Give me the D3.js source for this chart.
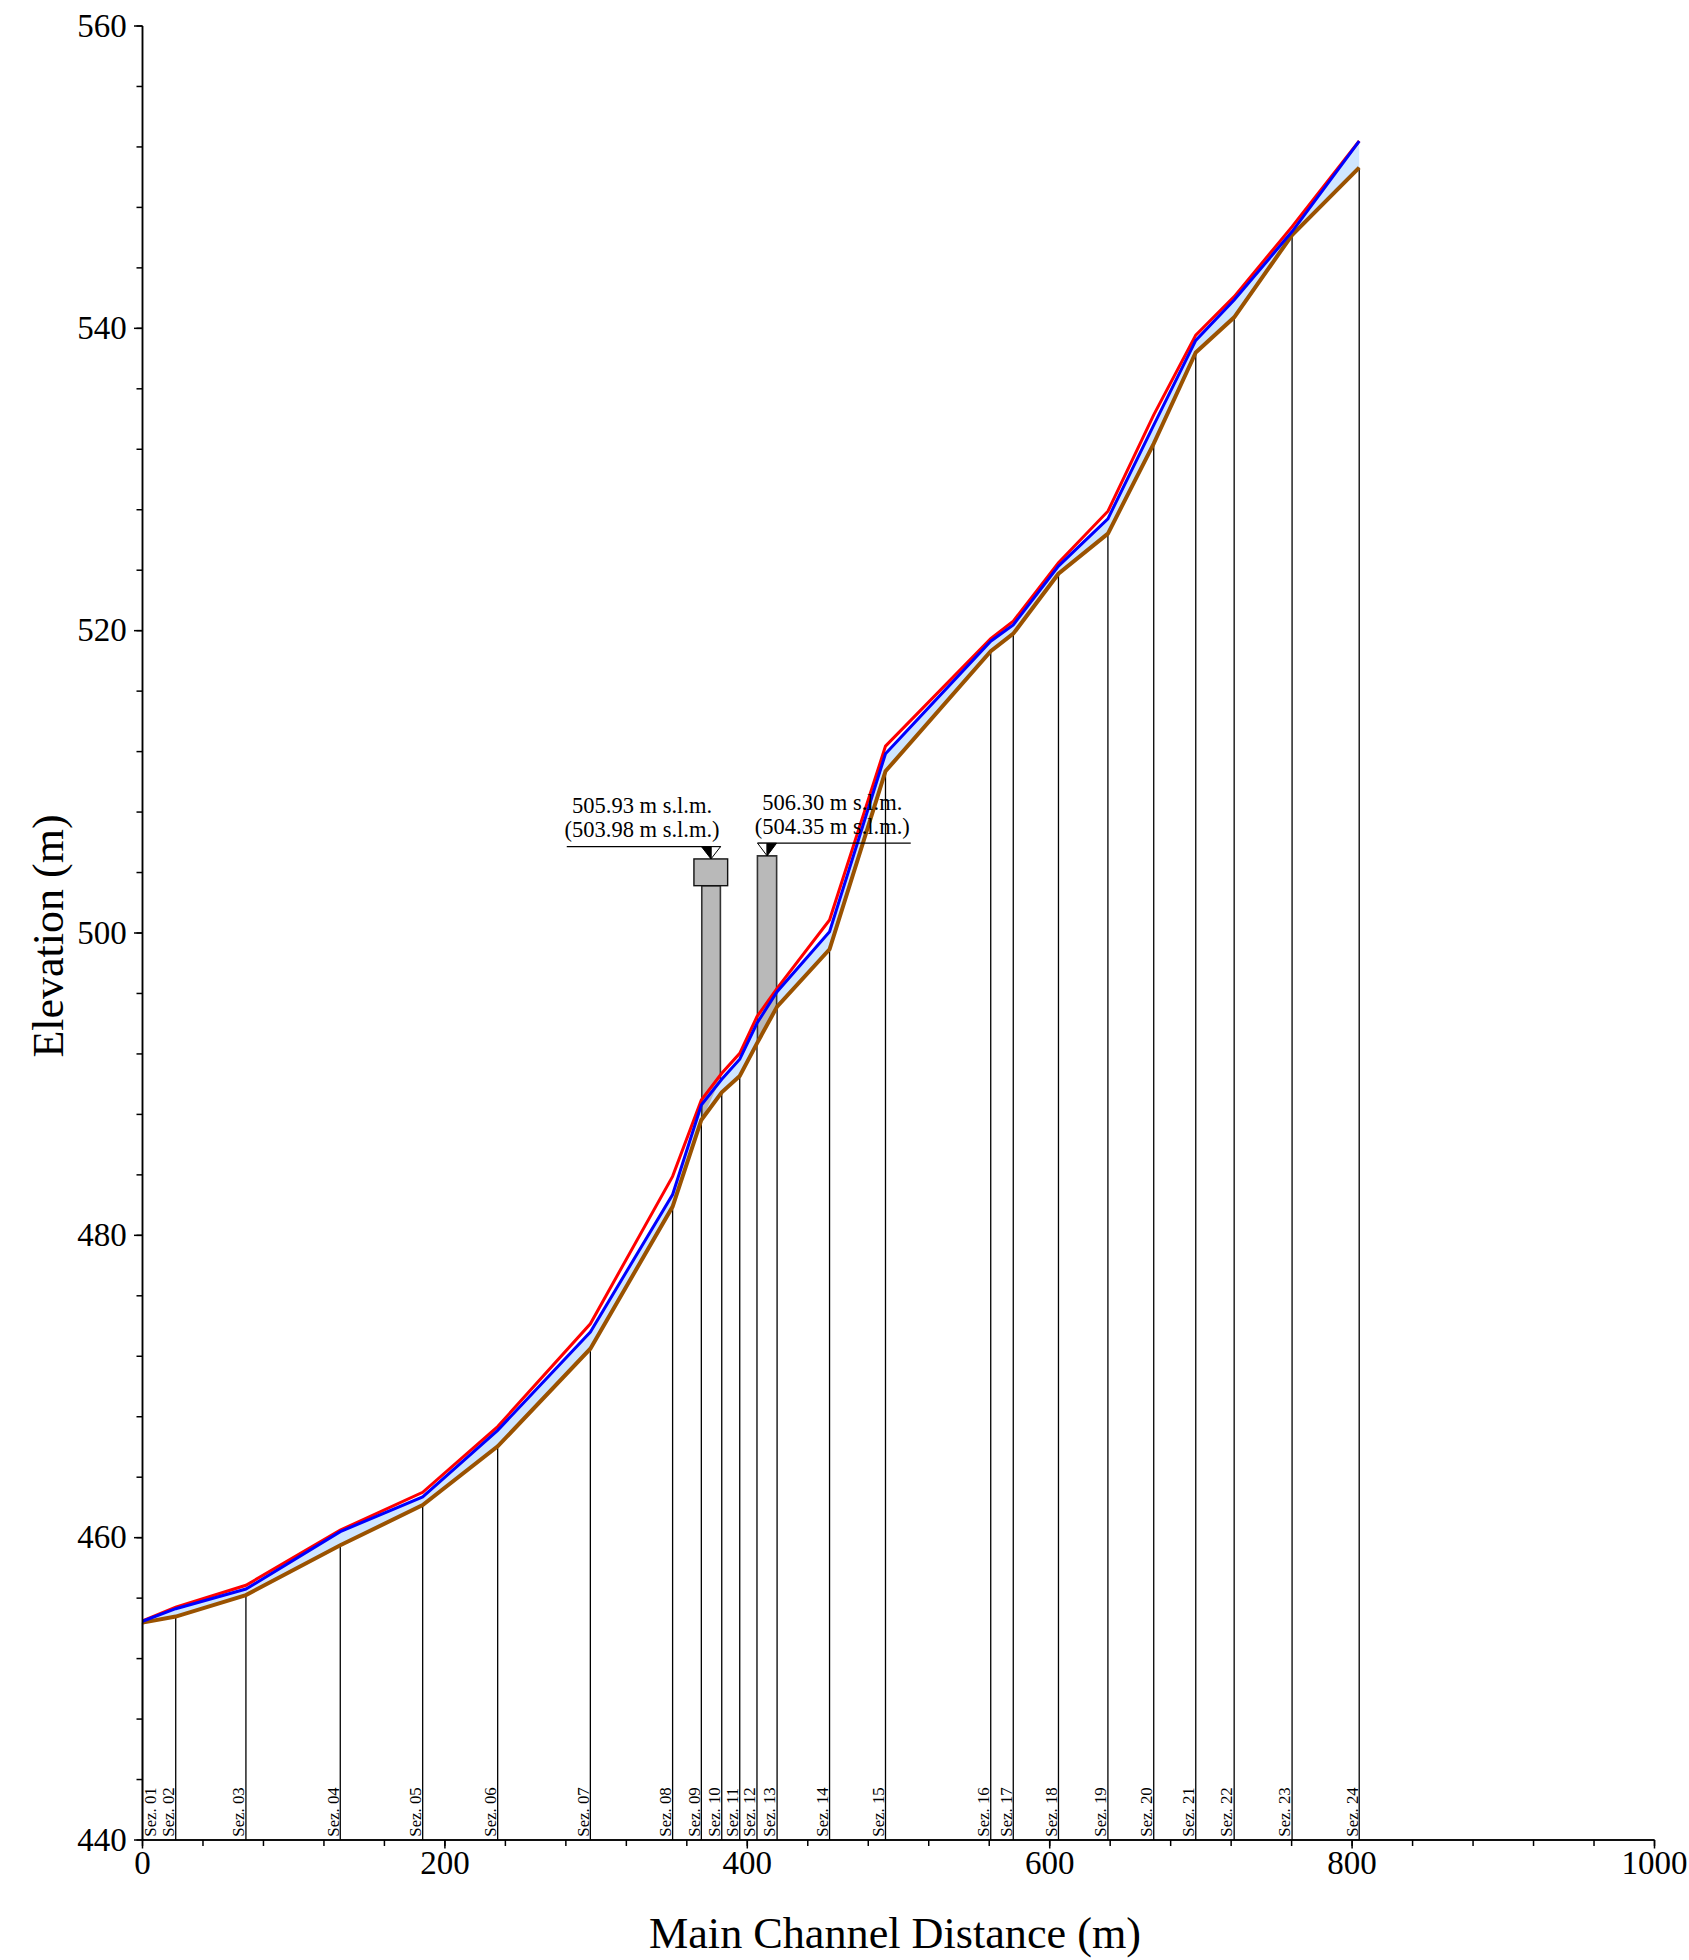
<!DOCTYPE html>
<html>
<head>
<meta charset="utf-8">
<title>Main channel profile</title>
<script src="https://cdn.jsdelivr.net/npm/d3@7"></script>
<style>
  body { margin: 0; background: #fff; }
  text { font-family: "Liberation Serif", serif; fill: #000; }
</style>
</head>
<body>
<svg id="chart" width="1689" height="1960"></svg>
<script>
// sections along the channel
const sectionNames = ["Sez. 01","Sez. 02","Sez. 03","Sez. 04","Sez. 05","Sez. 06","Sez. 07","Sez. 08","Sez. 09","Sez. 10","Sez. 11","Sez. 12","Sez. 13","Sez. 14","Sez. 15","Sez. 16","Sez. 17","Sez. 18","Sez. 19","Sez. 20","Sez. 21","Sez. 22","Sez. 23","Sez. 24"];
const distance = [0,21.97,68.4,130.8,185.3,234.9,296.2,350.6,369.6,383.1,395,406.4,419.7,454.4,491.4,561,575.9,605.8,638.5,668.8,696.6,722,760.3,804.7];
const bed = [454.38,454.78,456.2,459.5,462.15,466.04,472.5,481.9,487.63,489.46,490.54,492.7,495.13,498.92,510.7,518.64,519.8,523.77,526.42,532.37,538.4,540.73,546.17,550.63];
const water = [454.47,455.3,456.6,460.4,462.7,467.1,473.6,482.7,488.62,490.32,491.65,494.03,496.12,500.09,511.86,519.3,520.38,524.27,527.4,533.6,539.2,541.87,546.4,552.39];
const energy = [454.5,455.4,456.85,460.5,463,467.35,474.15,483.9,488.95,490.72,492.04,494.47,496.34,500.86,512.36,519.47,520.63,524.5,527.9,534.28,539.55,542.1,546.73,552.39];

// bridges
const pierLeft = [369.9, 406.7];
const pierRight = [382.2, 419.4];
const pierTop = [503.13, 505.1];
const pierBottomLeft = [487.63, 492.7];
const pierBottomRight = [490.32, 495.13];
const deckLeft = [364.7];
const deckRight = [387];
const deckTop = [504.9];
const deckBottom = [503.13];
const levelFrom = [280.6, 406.7];
const levelTo = [382.5, 508.1];
const levelElev = [505.71, 505.94];
const markerX = [376, 413.1];
const markerTip = [504.9, 505.1];
const labelX = [330.4, 456.2];
const labelTop = ["505.93 m s.l.m.", "506.30 m s.l.m."];
const labelBottom = ["(503.98 m s.l.m.)", "(504.35 m s.l.m.)"];

const xMajor = [0,200,400,600,800,1000];
const xMinor = d3.range(0, 1001, 40);
const yMajor = [440,460,480,500,520,540,560];
const yMinor = d3.range(440, 561, 4);

const svg = d3.select("#chart");
const x = d3.scaleLinear().domain([0, 1000]).range([142.5, 1654.5]);
const y = d3.scaleLinear().domain([440, 560]).range([1840, 26]);

const line = (vals) => d3.line().x((d, i) => x(distance[i])).y((d) => y(d))(vals);

// water area between bed and water surface
const area = d3.area()
  .x((d, i) => x(distance[i]))
  .y0((d, i) => y(bed[i]))
  .y1((d) => y(d));
svg.append("path").attr("d", area(water)).attr("fill", "#cfe6ff");

// section lines
svg.append("g").selectAll("line").data(distance).enter().append("line")
  .attr("x1", (d) => x(d)).attr("x2", (d) => x(d))
  .attr("y1", y(440)).attr("y2", (d, i) => y(bed[i]))
  .attr("stroke", "#000").attr("stroke-width", 1.3);

// piers
const piers = svg.append("g");
pierLeft.forEach((p, i) => {
  const pts = [[x(p), y(pierTop[i])], [x(pierRight[i]), y(pierTop[i])], [x(pierRight[i]), y(pierBottomRight[i])], [x(p), y(pierBottomLeft[i])]];
  piers.append("path").attr("d", "M" + pts.join("L") + "Z").attr("fill", "#b9b9b9");
  piers.append("path").attr("d", d3.line()([pts[3], pts[0], pts[1], pts[2]])).attr("fill", "none").attr("stroke", "#333").attr("stroke-width", 1.6);
});

// deck of first bridge
piers.selectAll("rect").data(deckLeft).enter().append("rect")
  .attr("x", (d) => x(d))
  .attr("width", (d, i) => x(deckRight[i]) - x(d))
  .attr("y", (d, i) => y(deckTop[i]))
  .attr("height", (d, i) => y(deckBottom[i]) - y(deckTop[i]))
  .attr("fill", "#b9b9b9").attr("stroke", "#111").attr("stroke-width", 1.4);

// profiles
const profile = (vals, color, w) => svg.append("path").attr("d", line(vals))
  .attr("fill", "none").attr("stroke", color).attr("stroke-width", w).attr("stroke-linejoin", "miter");
profile(bed, "#9a5200", 4);
profile(energy, "#ff0000", 3);
profile(water, "#0000ff", 3);

// water level lines
const levels = svg.append("g");
levelFrom.forEach((f, i) => {
  levels.append("line").attr("x1", x(f)).attr("x2", x(levelTo[i]))
    .attr("y1", y(levelElev[i])).attr("y2", y(levelElev[i]))
    .attr("stroke", "#000").attr("stroke-width", 1.3);
  // triangle, half black half white
  const cx = x(markerX[i]), top = y(levelElev[i]), tip = y(markerTip[i]), half = 9.5;
  const blackSide = i === 0 ? -half : half;
  levels.append("path").attr("d", d3.line()([[cx - blackSide, top], [cx, top], [cx, tip]]) + "Z")
    .attr("fill", "#fff").attr("stroke", "#000").attr("stroke-width", 1);
  levels.append("path").attr("d", d3.line()([[cx + blackSide, top], [cx, top], [cx, tip]]) + "Z")
    .attr("fill", "#000").attr("stroke", "#000").attr("stroke-width", 1);
  levels.append("text").attr("x", x(labelX[i])).attr("y", top - 33.5)
    .attr("text-anchor", "middle").attr("font-size", 22.5).text(labelTop[i]);
  levels.append("text").attr("x", x(labelX[i])).attr("y", top - 9.5)
    .attr("text-anchor", "middle").attr("font-size", 22.5).text(labelBottom[i]);
});

// section names
svg.append("g").selectAll("text").data(sectionNames).enter().append("text")
  .attr("transform", (d, i) => `translate(${i === 0 ? x(distance[0]) + 13.5 : x(distance[i]) - 1.7},1836.7) rotate(-90)`)
  .attr("font-size", 16.8).text((d) => d);

// axes
function styleAxis(g) {
  g.selectAll("path,line").attr("stroke", "#000").attr("stroke-width", 1.5);
  g.selectAll("text").attr("font-family", "Liberation Serif").attr("font-size", 33).attr("fill", "#000");
}
svg.append("g").attr("transform", `translate(0,${y(440)})`)
  .call(d3.axisBottom(x).tickValues(xMinor).tickSize(6).tickSizeOuter(0).tickFormat("").offset(0)).call(styleAxis);
svg.append("g").attr("transform", `translate(0,${y(440)})`)
  .call(d3.axisBottom(x).tickValues(xMajor).tickSize(8.5).tickSizeOuter(0).tickPadding(2.1).tickFormat(d3.format("d")).offset(0)).call(styleAxis);
svg.append("g").attr("transform", `translate(${x(0)},0)`)
  .call(d3.axisLeft(y).tickValues(yMinor).tickSize(6).tickSizeOuter(0).tickFormat("").offset(0)).call(styleAxis);
svg.append("g").attr("transform", `translate(${x(0)},0)`)
  .call(d3.axisLeft(y).tickValues(yMajor).tickSize(8.5).tickSizeOuter(0).tickPadding(7.3).tickFormat(d3.format("d")).offset(0)).call(styleAxis);

// axis titles
svg.append("text").attr("x", 895).attr("y", 1948).attr("text-anchor", "middle").attr("font-size", 44.2).text("Main Channel Distance (m)");
svg.append("text").attr("transform", "translate(62.7,936) rotate(-90)").attr("text-anchor", "middle").attr("font-size", 44).text("Elevation (m)");
</script>
</body>
</html>
